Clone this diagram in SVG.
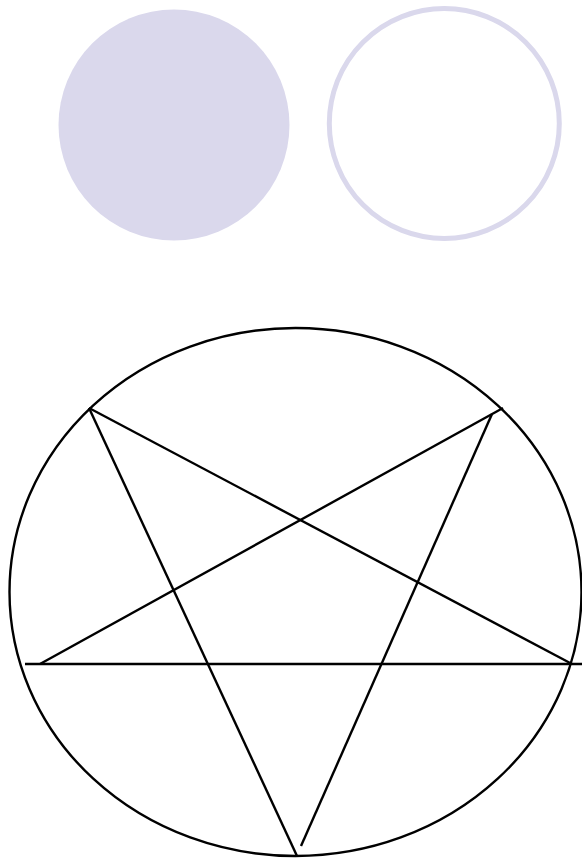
<svg xmlns="http://www.w3.org/2000/svg" width="582" height="858" viewBox="0 0 582 858">
<style>
.ln{stroke:#000;stroke-width:2.4;fill:none;}
</style>
<rect width="582" height="858" fill="#fff"/>
<g id="filled-circle"><circle cx="174" cy="125" r="115.5" fill="#dad8ec"/></g>
<g id="ring-circle"><circle cx="444.3" cy="123.5" r="115" fill="none" stroke="#dad8ec" stroke-width="5"/></g>
<g id="ellipse"><ellipse cx="295.5" cy="592" rx="286" ry="264" class="ln"/></g>
<g id="star">
<line x1="89" y1="408" x2="297" y2="856" class="ln"/>
<line x1="89" y1="408" x2="572" y2="664" class="ln"/>
<line x1="40" y1="664" x2="503" y2="408" class="ln"/>
<line x1="492" y1="414" x2="301" y2="846" class="ln"/>
<line x1="25" y1="664" x2="582" y2="664" class="ln"/>
</g>
</svg>
